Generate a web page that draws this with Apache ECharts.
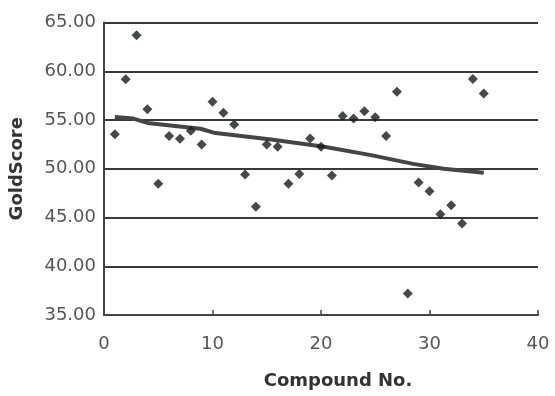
<!DOCTYPE html>
<html>
<head>
<meta charset="utf-8">
<script src="https://cdn.jsdelivr.net/npm/echarts@6/dist/echarts.min.js"></script>
<style>html,body{margin:0;padding:0;background:#fff;}#c{width:555px;height:396px;}</style>
</head>
<body>
<div id="c"></div>
<script>
var compoundNo = [1,2,3,4,5,6,7,8,9,10,11,12,13,14,15,16,17,18,19,20,21,22,23,24,25,26,27,28,29,30,31,32,33,34,35];
var goldScore = [53.55,59.17,63.7,56.1,48.45,53.35,53.07,53.9,52.5,56.87,55.74,54.55,49.4,46.1,52.5,52.25,48.45,49.45,53.1,52.25,49.3,55.4,55.16,55.9,55.27,53.35,57.9,37.2,48.6,47.7,45.34,46.26,44.38,59.2,57.73];
var trendX = [1,2.7,4,8.9,10.1,15.4,20.3,24.6,28.5,31.3,35];
var trendY = [55.3,55.15,54.7,54.1,53.7,53.0,52.25,51.4,50.5,50.0,49.6];
var yTicks = ['35.00','40.00','45.00','50.00','55.00','60.00','65.00'];

var points = compoundNo.map(function(x,i){return [x, goldScore[i]];});
var trend = trendX.map(function(x,i){return [x, trendY[i]];});

var chart = echarts.init(document.getElementById('c'), null, {renderer:'canvas'});
chart.setOption({
  animation:false,
  backgroundColor:'#ffffff',
  grid:{left:104, right:17, top:22.5, bottom:81, containLabel:false},
  xAxis:{
    type:'value', min:0, max:40, interval:10,
    name:'Compound No.', nameLocation:'middle', nameGap:57,
    nameTextStyle:{fontFamily:'DejaVu Sans', fontWeight:'bold', fontSize:18, color:'#333', padding:[0,0,0,34]},
    axisLine:{show:true, lineStyle:{color:'#444', width:2}},
    axisTick:{show:true, inside:true, length:5, lineStyle:{color:'#444', width:1.5}},
    axisLabel:{margin:20, fontFamily:'DejaVu Sans', fontSize:18, color:'#555'},
    splitLine:{show:false}
  },
  yAxis:{
    type:'value', min:35, max:65, interval:5,
    name:'GoldScore', nameLocation:'middle', nameGap:78,
    nameTextStyle:{fontFamily:'DejaVu Sans', fontWeight:'bold', fontSize:18, color:'#333'},
    axisLine:{show:true, lineStyle:{color:'#444', width:2}},
    axisTick:{show:false},
    axisLabel:{margin:8, fontFamily:'DejaVu Sans', fontSize:18, color:'#555',
      formatter:function(v){var i=Math.round((v-35)/5); return yTicks[i];}},
    splitLine:{show:true, lineStyle:{color:'#3a3a3a', width:2}}
  },
  series:[
    {type:'line', data:trend, symbol:'none', smooth:false,
     lineStyle:{color:'#454545', width:4}, z:2},
    {type:'scatter', data:points, symbol:'diamond', symbolSize:10,
     itemStyle:{color:'#161c1c'}, z:3}
  ]
});
</script>
</body>
</html>
